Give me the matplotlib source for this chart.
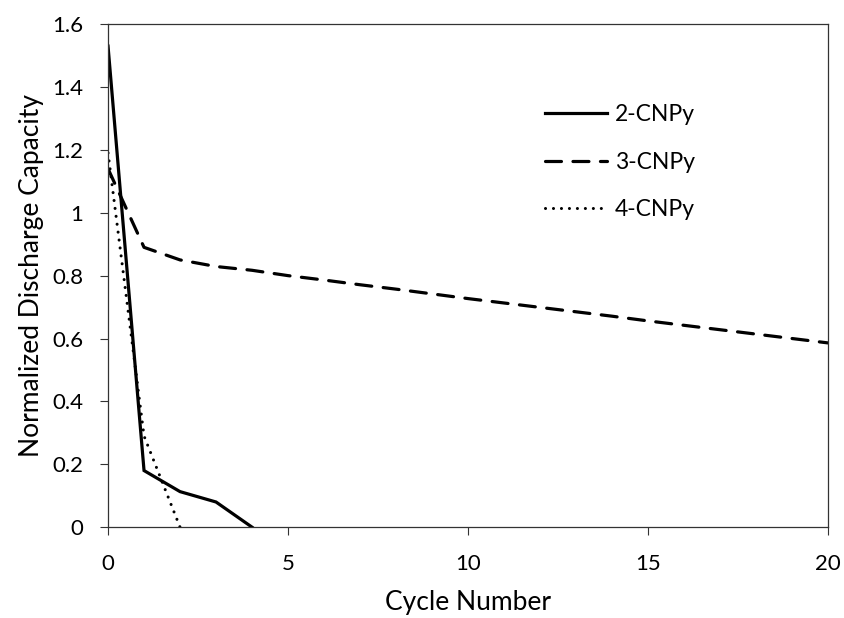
import matplotlib.pyplot as plt

plt.rcParams['font.family'] = ['Lato', 'DejaVu Sans']

# data
cycles_2 = [0, 1, 2, 3, 4]
cap_2 = [1.53, 0.18, 0.113, 0.08, 0.0]

cycles_3 = list(range(21))
cap_3 = [1.14, 0.89, 0.85, 0.829, 0.817, 0.80, 0.786, 0.771, 0.757, 0.742,
         0.727, 0.713, 0.699, 0.685, 0.671, 0.656, 0.642, 0.628, 0.614, 0.600, 0.586]

cycles_4 = [0, 1, 2]
cap_4 = [1.19, 0.29, 0.0]

fig = plt.figure(figsize=(8.44, 6.18), dpi=100)
ax = fig.add_axes([0.128, 0.147, 0.853, 0.814])

ax.plot(cycles_2, cap_2, color='black', lw=2.3, solid_joinstyle='miter', label='2-CNPy')
ax.plot(cycles_3, cap_3, color='black', lw=2.3, dashes=(5, 3.6),
        dash_capstyle='round', label='3-CNPy')
ax.plot(cycles_4, cap_4, color='black', lw=2.2, dashes=(0.01, 2.6),
        dash_capstyle='round', label='4-CNPy')

ax.set_xlim(0, 20)
ax.set_ylim(0, 1.6)
ax.set_xticks([0, 5, 10, 15, 20])
ax.set_yticks([0, 0.2, 0.4, 0.6, 0.8, 1.0, 1.2, 1.4, 1.6])
ax.set_yticklabels(['0', '0.2', '0.4', '0.6', '0.8', '1', '1.2', '1.4', '1.6'])
ax.tick_params(direction='out', length=6, width=0.8, labelsize=16, colors='#333333',
               labelcolor='black')
ax.tick_params(axis='x', pad=13)
ax.tick_params(axis='y', pad=12)
for s in ax.spines.values():
    s.set_color('#333333')
    s.set_linewidth(0.9)

ax.set_xlabel('Cycle Number', fontsize=19, labelpad=12)
ax.set_ylabel('Normalized Discharge Capacity', fontsize=19, labelpad=6)

ax.legend(loc='upper left', bbox_to_anchor=(0.635, 0.847), bbox_transform=fig.transFigure,
          frameon=False, fontsize=16.5, handlelength=2.7, labelspacing=1.17,
          handletextpad=0.35, borderaxespad=0)

fig.savefig('out.png', dpi=100)
